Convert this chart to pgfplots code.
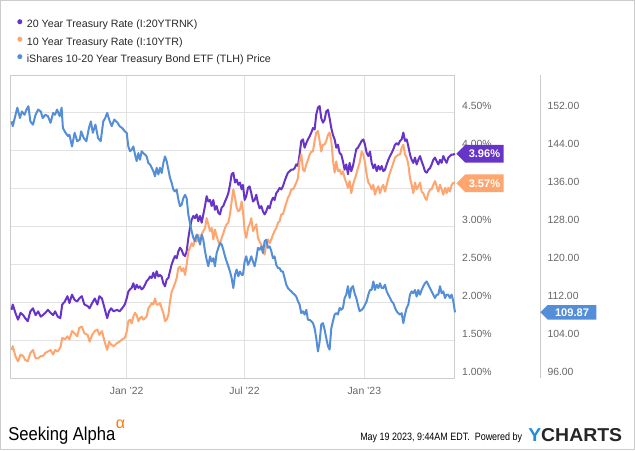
\documentclass[border=0pt]{standalone}
\usepackage{pgfplots}
\pgfplotsset{compat=1.18}
\usepackage{fontspec}
\setmainfont{Liberation Sans}
\usetikzlibrary{shapes.symbols}
\definecolor{purp}{RGB}{103,52,201}
\definecolor{oran}{RGB}{255,166,112}
\definecolor{blu}{RGB}{84,142,216}
\definecolor{gridgray}{RGB}{226,226,226}
\definecolor{framegray}{RGB}{204,204,204}
\definecolor{tickgray}{RGB}{102,102,102}
\definecolor{legendgray}{RGB}{40,40,40}
\definecolor{saorange}{RGB}{255,120,0}
\definecolor{ycblue}{RGB}{30,140,225}

\pgfplotstableread{
d r
-177 1.90
-175 1.97
-171 1.86
-167 1.77
-163 1.86
-159 1.83
-156 1.79
-152 1.75
-148 1.88
-144 1.92
-140 1.83
-136 1.88
-132 1.81
-129 1.83
-125 1.86
-121 1.90
-117 1.86
-113 1.83
-110 1.88
-106 1.81
-102 1.79
-99 1.97
-95 2.01
-91 2.08
-88 1.99
-84 2.10
-80 2.03
-76 2.01
-73 2.05
-69 2.08
-65 1.97
-60 1.95
-57 1.92
-53 1.99
-49 2.05
-45 1.97
-42 2.08
-38 2.05
-34 1.92
-30 1.79
-27 1.88
-24 1.92
-20 1.88
-15 1.90
-11 1.88
-7 1.92
-3 1.97
0.0 2.05
2.5 2.14
5.1 2.17
7.6 2.19
10.2 2.25
12.8 2.17
15.3 2.23
17.9 2.19
20.4 2.21
23.0 2.17
25.6 2.19
28.1 2.23
30.7 2.28
33.2 2.30
35.8 2.34
38.4 2.32
40.9 2.39
43.5 2.32
46.0 2.41
48.6 2.34
51.2 2.36
53.7 2.34
56.3 2.25
58.8 2.21
61.4 2.30
64.0 2.32
66.5 2.41
69.1 2.50
71.6 2.56
74.2 2.61
76.8 2.58
79.3 2.67
81.9 2.72
84.4 2.69
87.0 2.63
89.6 2.61
92.1 2.67
94.7 2.85
97.2 2.98
99.8 3.09
102.4 3.14
104.9 3.11
107.5 3.16
110.0 3.07
112.6 3.14
115.2 3.05
117.7 3.16
120.3 3.27
122.8 3.40
125.4 3.33
128.0 3.35
130.5 3.27
133.1 3.35
135.6 3.22
138.2 3.27
140.8 3.18
143.3 3.16
145.9 3.25
148.4 3.27
151.0 3.33
153.6 3.38
156.1 3.44
158.7 3.55
161.2 3.69
163.8 3.71
166.4 3.58
168.9 3.62
171.5 3.55
174.0 3.58
176.6 3.49
178.6 3.55
181.2 3.35
183.7 3.40
186.3 3.51
188.8 3.53
191.4 3.44
194.0 3.33
196.5 3.35
199.1 3.42
201.6 3.31
204.2 3.24
206.8 3.27
209.3 3.20
211.9 3.16
214.4 3.20
217.0 3.27
219.6 3.24
222.1 3.33
224.7 3.38
227.2 3.35
229.8 3.44
232.4 3.47
234.9 3.51
237.5 3.49
240.0 3.53
242.6 3.60
245.2 3.66
247.7 3.71
250.3 3.73
252.8 3.75
255.4 3.75
258.0 3.77
260.5 3.82
263.1 3.80
265.6 3.95
268.2 4.13
270.8 4.15
273.3 4.04
275.9 4.10
278.4 4.15
281.0 4.19
283.6 4.24
286.1 4.30
288.7 4.28
291.2 4.48
293.8 4.57
296.4 4.59
298.9 4.43
301.5 4.37
304.0 4.41
306.6 4.52
309.2 4.54
311.7 4.43
314.3 4.30
316.8 4.21
319.4 4.15
322.0 4.04
324.5 4.08
327.1 3.97
329.6 3.95
332.2 3.86
334.8 3.75
337.3 3.82
339.9 3.69
342.4 3.84
345.0 3.73
347.6 3.80
350.1 3.91
352.7 4.02
355.2 4.04
357.8 4.08
361.0 4.13
363.5 4.15
366.1 4.08
368.6 3.97
371.2 3.93
373.8 3.99
376.3 3.84
378.9 3.77
381.4 3.82
384.0 3.73
386.6 3.80
389.1 3.75
391.7 3.80
394.2 3.73
396.8 3.75
399.4 3.82
401.9 3.88
404.5 3.93
407.0 3.97
409.6 4.02
412.2 4.08
414.7 4.10
417.3 4.08
419.8 4.13
422.4 4.15
425.0 4.24
427.5 4.13
430.1 4.15
432.6 4.06
435.2 3.95
437.8 3.88
440.3 3.84
442.9 3.91
445.4 3.82
448.0 3.88
450.6 3.93
453.1 3.86
455.7 3.80
458.2 3.73
460.8 3.71
463.4 3.75
465.9 3.77
468.5 3.82
471.0 3.88
473.6 3.91
476.2 3.86
478.7 3.82
481.3 3.88
483.8 3.84
486.4 3.93
489.0 3.88
491.5 3.84
494.1 3.91
496.6 3.93
499.2 3.95
501.8 3.95
504.3 3.96
}\twentyyr

\pgfplotstableread{
d r
-177 1.37
-175 1.42
-171 1.29
-167 1.22
-163 1.31
-159 1.29
-156 1.24
-152 1.22
-148 1.33
-144 1.37
-140 1.26
-136 1.26
-132 1.29
-129 1.29
-125 1.33
-121 1.35
-117 1.37
-113 1.31
-110 1.37
-106 1.35
-102 1.40
-99 1.53
-95 1.51
-91 1.55
-88 1.51
-84 1.62
-80 1.59
-76 1.55
-73 1.66
-69 1.68
-65 1.59
-60 1.57
-57 1.48
-53 1.57
-49 1.62
-45 1.64
-42 1.57
-38 1.62
-34 1.48
-30 1.37
-27 1.48
-24 1.44
-20 1.42
-15 1.46
-11 1.48
-7 1.51
-3 1.53
0.0 1.61
2.5 1.75
5.1 1.77
7.6 1.72
10.2 1.81
12.8 1.86
15.3 1.83
17.9 1.75
20.4 1.79
23.0 1.81
25.6 1.77
28.1 1.79
30.7 1.81
33.2 1.92
35.8 1.95
38.4 1.99
40.9 1.97
43.5 2.05
46.0 1.97
48.6 1.97
51.2 1.99
53.7 1.92
56.3 1.86
58.8 1.75
61.4 1.77
64.0 1.83
66.5 2.01
69.1 2.14
71.6 2.19
74.2 2.25
76.8 2.32
79.3 2.45
81.9 2.47
84.4 2.41
87.0 2.45
89.6 2.36
92.1 2.50
94.7 2.67
97.2 2.72
99.8 2.78
102.4 2.74
104.9 2.85
107.5 2.80
110.0 2.89
112.6 2.78
115.2 2.89
117.7 2.94
120.3 2.98
122.8 3.11
125.4 3.03
128.0 2.94
130.5 2.98
133.1 2.83
135.6 2.96
138.2 2.87
140.8 2.80
143.3 2.76
145.9 2.85
148.4 2.91
151.0 2.98
153.6 3.03
156.1 3.05
158.7 3.16
161.2 3.33
163.8 3.49
166.4 3.38
168.9 3.25
171.5 3.20
174.0 3.22
176.6 3.33
178.6 3.20
181.2 2.94
183.7 2.85
186.3 2.98
188.8 3.03
191.4 3.11
194.0 2.94
196.5 2.98
199.1 3.03
201.6 2.85
204.2 2.80
206.8 2.76
209.3 2.69
211.9 2.63
214.4 2.76
217.0 2.83
219.6 2.78
222.1 2.83
224.7 2.89
227.2 2.94
229.8 2.98
232.4 3.05
234.9 3.07
237.5 3.16
240.0 3.16
242.6 3.24
245.2 3.31
247.7 3.38
250.3 3.42
252.8 3.49
255.4 3.49
258.0 3.53
260.5 3.58
263.1 3.64
265.6 3.86
268.2 3.95
270.8 3.75
273.3 3.73
275.9 3.82
278.4 3.88
281.0 3.95
283.6 3.99
286.1 3.99
288.7 4.13
291.2 4.24
293.8 4.26
296.4 4.13
298.9 3.99
301.5 4.08
304.0 4.08
306.6 4.13
309.2 4.21
311.7 4.24
314.3 4.13
316.8 3.88
319.4 3.71
322.0 3.86
324.5 3.73
327.1 3.75
329.6 3.69
332.2 3.73
334.8 3.64
337.3 3.58
339.9 3.51
342.4 3.60
345.0 3.44
347.6 3.55
350.1 3.62
352.7 3.69
355.2 3.77
357.8 3.84
361.0 3.99
363.5 3.95
366.1 3.84
368.6 3.69
371.2 3.58
373.8 3.55
376.3 3.49
378.9 3.55
381.4 3.42
384.0 3.49
386.6 3.53
389.1 3.44
391.7 3.51
394.2 3.55
396.8 3.46
399.4 3.55
401.9 3.64
404.5 3.71
407.0 3.77
409.6 3.84
412.2 3.91
414.7 3.93
417.3 3.95
419.8 3.95
422.4 4.04
425.0 4.08
427.5 3.95
430.1 3.91
432.6 3.82
435.2 3.64
437.8 3.55
440.3 3.44
442.9 3.58
445.4 3.49
448.0 3.53
450.6 3.58
453.1 3.46
455.7 3.44
458.2 3.38
460.8 3.35
463.4 3.44
465.9 3.49
468.5 3.49
471.0 3.55
473.6 3.60
476.2 3.53
478.7 3.46
481.3 3.55
483.8 3.49
486.4 3.42
489.0 3.51
491.5 3.44
494.1 3.51
496.6 3.46
499.2 3.55
501.8 3.58
504.3 3.57
}\tenyr

\pgfplotstableread{
d p
-177 150.2
-175 149.2
-172 150.9
-168 153.1
-164 150.9
-161 152.3
-157 151.6
-154 152.7
-151 153.4
-148 150.2
-144 149.5
-140 151.6
-136 152.7
-132 152.3
-129 150.9
-125 151.6
-121 151.3
-117 149.9
-113 152.0
-110 151.6
-107 152.7
-103 151.3
-100 153.1
-98 148.8
-94 147.8
-90 147.1
-88 147.4
-84 144.9
-80 147.8
-76 146.0
-72 146.4
-70 148.1
-66 146.7
-62 146.0
-58 148.8
-55 150.2
-52 147.8
-48 149.5
-44 146.7
-40 146.0
-36 150.2
-33 150.9
-30 152.0
-26 150.2
-23 149.2
-19 150.6
-14 149.9
-11 149.2
-7 148.8
-3 148.1
0.0 147.8
2.5 144.9
5.1 143.9
7.6 144.2
10.2 144.9
12.8 143.2
15.3 141.8
17.9 143.5
20.4 142.1
23.0 143.9
25.6 143.5
28.1 143.2
30.7 142.8
33.2 141.4
35.8 141.1
38.4 140.4
40.9 139.7
43.5 138.6
46.0 140.4
48.6 139.0
51.2 140.4
53.7 139.3
56.3 141.4
58.8 142.8
61.4 141.8
64.0 140.0
66.5 138.3
69.1 137.2
71.6 135.8
74.2 135.4
76.8 135.8
79.3 133.7
81.9 132.3
84.4 132.6
87.0 134.0
89.6 134.7
92.1 134.0
94.7 130.5
97.2 128.7
99.8 127.0
102.4 125.6
104.9 124.9
107.5 126.3
110.0 125.6
112.6 124.2
115.2 126.3
117.7 125.2
120.3 122.8
122.8 121.0
125.4 119.6
128.0 121.7
130.5 120.6
133.1 121.3
135.6 119.6
138.2 122.4
140.8 123.5
143.3 124.5
145.9 124.2
148.4 123.1
151.0 121.7
153.6 120.6
156.1 119.6
158.7 118.5
161.2 117.1
163.8 115.0
166.4 117.8
168.9 118.9
171.5 117.5
174.0 118.5
176.6 117.8
178.6 117.8
181.2 120.6
183.7 121.7
186.3 119.9
188.8 120.6
191.4 121.7
194.0 120.6
196.5 119.6
199.1 121.3
201.6 123.5
204.2 123.1
206.8 123.8
209.3 122.4
211.9 124.9
214.4 125.2
217.0 123.5
219.6 123.8
222.1 122.8
224.7 121.3
227.2 121.7
229.8 119.9
232.4 119.2
234.9 119.2
237.5 118.5
240.0 118.5
242.6 117.1
245.2 115.7
247.7 115.0
250.3 114.6
252.8 114.3
255.4 113.9
258.0 113.6
260.5 113.2
263.1 112.2
265.6 111.5
268.2 109.7
270.8 110.1
273.3 109.4
275.9 110.4
278.4 108.3
281.0 108.3
283.6 108.0
286.1 107.6
288.7 106.5
291.2 104.4
293.8 101.6
296.4 103.7
298.9 107.3
301.5 107.6
304.0 106.2
306.6 104.4
309.2 102.7
311.7 102.0
314.3 106.5
316.8 108.0
319.4 109.4
322.0 109.7
324.5 109.4
327.1 110.8
329.6 110.4
332.2 110.8
334.8 112.9
337.3 113.6
339.9 115.4
342.4 112.9
345.0 115.0
347.6 115.4
350.1 113.9
352.7 112.9
355.2 111.5
357.8 110.1
361.0 110.4
363.5 110.8
366.1 111.5
368.6 112.2
371.2 113.6
373.8 114.6
376.3 114.6
378.9 116.4
381.4 114.6
384.0 115.7
386.6 115.0
389.1 116.0
391.7 115.0
394.2 115.0
396.8 115.7
399.4 114.3
401.9 113.6
404.5 112.9
407.0 112.2
409.6 111.8
412.2 110.8
414.7 110.1
417.3 109.7
419.8 109.4
422.4 109.7
425.0 107.6
427.5 109.4
430.1 110.8
432.6 111.5
435.2 113.6
437.8 114.3
440.3 113.9
442.9 114.6
445.4 113.2
448.0 114.6
450.6 113.6
453.1 114.6
455.7 115.4
458.2 116.0
460.8 116.4
463.4 115.7
465.9 115.0
468.5 114.3
471.0 113.6
473.6 112.9
476.2 113.6
478.7 113.6
481.3 115.4
483.8 113.9
486.4 114.3
489.0 112.9
491.5 113.6
494.1 113.6
496.6 112.9
499.2 113.6
501.8 112.2
504.3 109.87
}\tlh

\begin{document}
\begin{tikzpicture}[x=0.75pt,y=0.75pt]
\path[use as bounding box] (0,0) rectangle (635,450);
\draw[framegray, line width=0.75pt] (0.4,0.4) rectangle (634.6,449.6);

\begin{axis}[
  at={(8.025pt,54pt)}, anchor=south west, scale only axis,
  width=333.2pt, height=227.25pt,
  xmin=-178.2, xmax=504.3, ymin=1, ymax=5,
  xtick={0,181,365}, xticklabels={Jan '22,Jul '22,Jan '23},
  ytick={1,1.5,2,2.5,3,3.5,4,4.5},
  yticklabels={1.00\%,1.50\%,2.00\%,2.50\%,3.00\%,{},4.00\%,4.50\%},
  yticklabel pos=right,
  grid=major, major grid style={gridgray, line width=0.75pt},
  axis line style={framegray, line width=0.75pt},
  tick style={draw=none},
  ticklabel style={font=\fontsize{7.8}{9}\selectfont, text=tickgray},
  yticklabel style={anchor=west, inner sep=0pt, xshift=5.25pt, yshift=4.9pt},
  xticklabel style={anchor=center, inner sep=0pt, yshift=-9.5pt},
  clip=false,
]
\addplot[purp, line width=1.5pt, line join=round] table[x=d, y=r] {\twentyyr};
\addplot[oran, line width=1.5pt, line join=round] table[x=d, y=r] {\tenyr};
\coordinate (t20) at (axis cs:504.3,3.96);
\coordinate (t10) at (axis cs:504.3,3.57);
\end{axis}

\begin{axis}[
  at={(8.025pt,54pt)}, anchor=south west, scale only axis,
  width=333.2pt, height=227.25pt,
  xmin=-178.2, xmax=504.3, ymin=96, ymax=160,
  axis x line=none, axis y line*=right,
  y axis line style={draw=none},
  xtick=\empty,
  ytick={96,104,112,120,128,136,144,152},
  yticklabels={96.00,104.00,112.00,120.00,128.00,136.00,144.00,152.00},
  tick style={draw=none},
  ticklabel style={font=\fontsize{7.8}{9}\selectfont, text=tickgray},
  yticklabel style={anchor=west, inner sep=0pt, xshift=69.2pt, yshift=4.9pt},
  clip=false,
  legend style={at={(axis description cs:0.0142,1.185)}, anchor=north west,
    draw=none, fill=none, inner sep=0pt,
    row sep=4.8pt, font=\fontsize{8}{9.6}\selectfont, text=legendgray,
    nodes={inner sep=0pt, text height=6pt, text depth=1.8pt}},
  legend cell align=left,
  legend image code/.code={\fill[draw=none] (1.9pt,0.25em) circle (1.9pt); \path[draw=none] (0pt,0.25em) -- (7.2pt,0.25em);},
]
\addlegendimage{purp}
\addlegendentry{20 Year Treasury Rate (I:20YTRNK)}
\addlegendimage{oran}
\addlegendentry{10 Year Treasury Rate (I:10YTR)}
\addplot[blu, line width=1.5pt, line join=round] table[x=d, y=p] {\tlh};
\addlegendentry{iShares 10-20 Year Treasury Bond ETF (TLH) Price}
\coordinate (tp) at (axis cs:504.3,109.87);
\end{axis}

\draw[framegray, line width=0.75pt] (540,72) -- (540,375);

\node[signal, signal to=west, fill=purp, text=white, font=\bfseries\fontsize{8.3}{9}\selectfont,
  minimum height=13.3pt, minimum width=35.5pt, inner xsep=1pt, inner ysep=0pt, anchor=west] at ([xshift=0.75pt]t20) {3.96\%};
\node[signal, signal to=west, fill=oran, text=white, font=\bfseries\fontsize{8.3}{9}\selectfont,
  minimum height=13.3pt, minimum width=35.5pt, inner xsep=1pt, inner ysep=0pt, anchor=west] at ([xshift=0.75pt]t10) {3.57\%};
\node[signal, signal to=west, fill=blu, text=white, font=\bfseries\fontsize{8.3}{9}\selectfont,
  minimum height=11pt, minimum width=42pt, inner xsep=1pt, inner ysep=0pt, anchor=west] at ([xshift=63.75pt]tp) {109.87};

\node[anchor=base west, inner sep=0pt] at (8,10) {\scalebox{0.89}[1]{\fontsize{14}{16}\selectfont Seeking Alpha}};
\node[anchor=base west, inner sep=0pt, text=saorange] at (115.5,22) {\fontsize{12}{14}\selectfont α};
\node[anchor=base west, inner sep=0pt] at (360,9.5) {\scalebox{0.84}[1]{\fontsize{8}{10}\selectfont May 19 2023, 9:44AM EDT.\ \ Powered by}};
\node[anchor=base west, inner sep=0pt] at (528,8.3) {\scalebox{1.04}[1]{\fontsize{14}{16}\selectfont\bfseries \textcolor{ycblue}{Y}\textcolor{black!85}{CHARTS}}};
\end{tikzpicture}
\end{document}
